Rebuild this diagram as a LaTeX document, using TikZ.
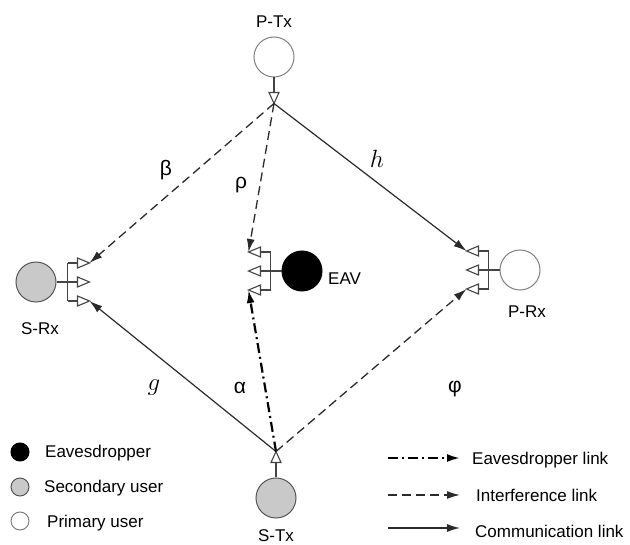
\documentclass[tikz,border=0pt]{standalone}
\usepackage{fontspec}
\setmainfont{Liberation Sans}
\usetikzlibrary{arrows.meta}

\definecolor{sugray}{HTML}{C9C9C9}
\definecolor{edgegray}{HTML}{555555}
\definecolor{antgray}{HTML}{444444}
\definecolor{linkgray}{HTML}{2A2A2A}

\begin{document}
\begin{tikzpicture}[x=1pt,y=-1pt,
    user/.style={circle,draw=edgegray,line width=1pt,minimum size=40pt,inner sep=0pt},
    primary/.style={user,fill=white,draw=gray},
    secondary/.style={user,fill=sugray},
    eaves/.style={user,fill=black,draw=black},
    lbl/.style={font=\fontsize{17}{20}\selectfont,anchor=base,inner sep=0pt},
    greek/.style={font=\fontsize{21}{24}\selectfont,inner sep=0pt},
    tip/.style={-{Latex[length=13pt,width=8pt]}},
    commlink/.style={tip,line width=1.2pt,draw=linkgray},
    intflink/.style={tip,line width=1.3pt,draw=linkgray,dash pattern=on 9pt off 5pt},
    eavlink/.style={tip,line width=2.2pt,draw=black,dash pattern=on 10pt off 4pt on 2pt off 4pt},
    ant/.style={draw=antgray,line width=1.1pt},
    rxant/.pic={
      \draw[ant] (0,0) -- (11,0) (11,-19) -- (11,19);
      \foreach \yy in {-19,0,19}{
        \draw[ant] (11,\yy) -- (21,\yy);
        \draw[ant,fill=white] (21,\yy-5) -- (33,\yy) -- (21,\yy+5) -- cycle;
      }
      \coordinate (-a) at (33,-19);
      \coordinate (-b) at (33,0);
      \coordinate (-c) at (33,19);
    },
    txant/.pic={
      \draw[ant] (0,0) -- (15,0);
      \draw[ant,fill=white] (15,-5) -- (26,0) -- (15,5) -- cycle;
      \coordinate (-t) at (26,0);
    }]
  \useasboundingbox (0,0) rectangle (630,545);

  % users
  \node[primary] (ptx) at (274,57) {};
  \node[secondary] (stx) at (276,498) {};
  \node[secondary] (srx) at (36,282) {};
  \node[eaves] (eav) at (302,271) {};
  \node[primary] (prx) at (520,270) {};

  \node[lbl] (ptxlbl) at (274,28) {P-Tx};
  \node[lbl] (stxlbl) at (276,541) {S-Tx};
  \node[lbl] (srxlbl) at (40,335) {S-Rx};
  \node[lbl] (prxlbl) at (527,318) {P-Rx};
  \node[lbl,anchor=base west] (eavlbl) at (328,285) {EAV};

  % antennas
  \pic[rotate=-90] (ptxa) at (ptx.south) {txant};
  \pic[rotate=90] (stxa) at (stx.north) {txant};
  \pic (srxa) at (srx.east) {rxant};
  \pic[rotate=180] (eava) at (eav.west) {rxant};
  \pic[rotate=180] (prxa) at (prx.west) {rxant};

  % links
  \draw[intflink] (ptxa-t) -- (srxa-a);
  \draw[intflink] (ptxa-t) -- (eava-c);
  \draw[commlink] (ptxa-t) -- (prxa-c);
  \draw[commlink] (stxa-t) -- (srxa-c);
  \draw[eavlink] (stxa-t) -- (eava-a);
  \draw[intflink] (stxa-t) -- (prxa-a);

  \node[greek] (beta) at (166,170) {β};
  \node[greek] (rho) at (241,185) {ρ};
  \node[greek,font=\fontsize{26}{28}\selectfont] (hlbl) at (377,159) {$h$};
  \node[greek,font=\fontsize{26}{28}\selectfont] (glbl) at (154,388) {$g$};
  \node[greek] (alpha) at (240,388) {α};
  \node[greek] (phi) at (455,389) {φ};

  % legend
  \node[eaves,minimum size=18pt] (lgeav) at (20,452) {};
  \node[secondary,minimum size=18pt] (lgsec) at (20,487) {};
  \node[primary,minimum size=18pt] (lgpri) at (20,521) {};
  \node[lbl,anchor=base west] (lgeavtxt) at (45,458) {Eavesdropper};
  \node[lbl,anchor=base west] (lgsectxt) at (44,493) {Secondary user};
  \node[lbl,anchor=base west] (lgpritxt) at (47,528) {Primary user};

  \coordinate (lgea) at (388,458);
  \coordinate (lgeb) at (460,458);
  \coordinate (lgia) at (388,495);
  \coordinate (lgib) at (460,495);
  \coordinate (lgca) at (388,528);
  \coordinate (lgcb) at (460,528);
  \draw[eavlink] (lgea) -- (lgeb);
  \draw[intflink] (lgia) -- (lgib);
  \draw[commlink] (lgca) -- (lgcb);
  \node[lbl,anchor=base west] (lgetxt) at (472,465) {Eavesdropper link};
  \node[lbl,anchor=base west] (lgitxt) at (476,502) {Interference link};
  \node[lbl,anchor=base west] (lgctxt) at (475,537) {Communication link};
\end{tikzpicture}
\end{document}
